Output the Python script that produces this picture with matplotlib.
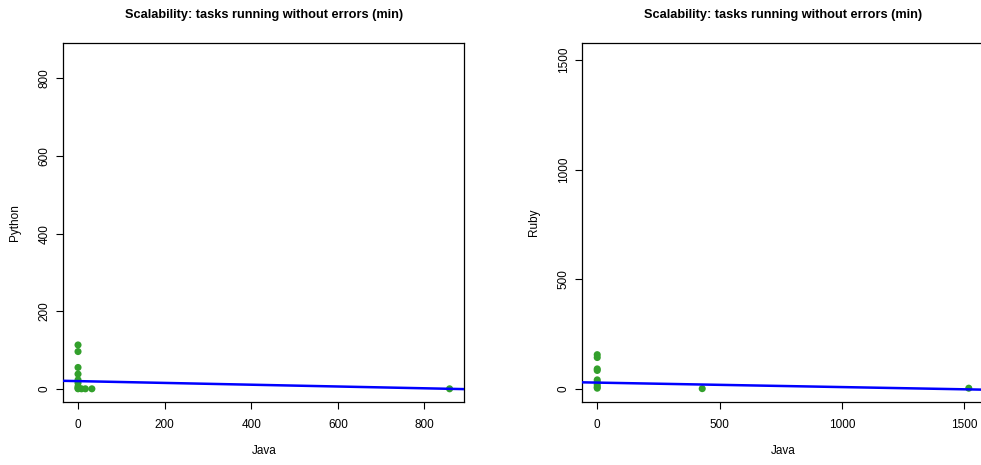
import matplotlib
matplotlib.use("Agg")
import matplotlib.pyplot as plt
import numpy as np

plt.rcParams.update({
    "font.family": ["Liberation Sans", "DejaVu Sans"],
    "font.size": 8,
})

title = "Scalability: tasks running without errors (min)"
xlabel = "Java"

# Java vs Python
py_java = [0, 0, 0, 0, 0, 0, 0, 0, 0, 8, 17, 32, 858]
py_vals = [113, 96, 55, 38, 23, 15, 6, 2, 0, 0, 0, 0, 0]
py_fit = (19.8, -0.0231)        # intercept, slope of the fitted line
py_ticks = [0, 200, 400, 600, 800]

# Java vs Ruby
rb_java = [0, 0, 0, 0, 0, 0, 0, 0, 0, 429, 1518]
rb_vals = [155, 142, 90, 83, 40, 30, 18, 8, 2, 0, 2]
rb_fit = (27.5, -0.0204)
rb_ticks = [0, 500, 1000, 1500]

W, H = 981, 465
fig = plt.figure(figsize=(W / 100, H / 100), dpi=100)


def panel(rect, xs, ys, fit, ticks, lim, ylabel):
    ax = fig.add_axes(rect)
    ax.scatter(xs, ys, s=26, color="#33a02c", edgecolors="none", zorder=3)
    ax.axline((0, fit[0]), slope=fit[1], color="#0000ff", lw=1.8, zorder=4)
    ax.set_xlim(lim)
    ax.set_ylim(lim)
    ax.set_xticks(ticks)
    ax.set_yticks(ticks)
    ax.set_yticklabels([str(t) for t in ticks], rotation=90, va="center")
    ax.tick_params(direction="out", length=5, width=0.8, labelsize=8.5)
    ax.tick_params(axis="x", pad=7)
    ax.tick_params(axis="y", pad=4)
    for s in ax.spines.values():
        s.set_linewidth(0.9)
    ax.set_title(title, fontsize=9.2, fontweight="bold", pad=18)
    ax.set_xlabel(xlabel, fontsize=8.5, labelpad=10)
    ax.set_ylabel(ylabel, fontsize=8.5, labelpad=13)
    return ax


panel([63.3 / W, 1 - 402 / H, 401 / W, 359.3 / H],
      py_java, py_vals, py_fit, py_ticks, (-34, 892), "Python")
panel([582.3 / W, 1 - 402 / H, 401.4 / W, 359.3 / H],
      rb_java, rb_vals, rb_fit, rb_ticks, (-61, 1579), "Ruby")

fig.savefig("out.png", dpi=100)
